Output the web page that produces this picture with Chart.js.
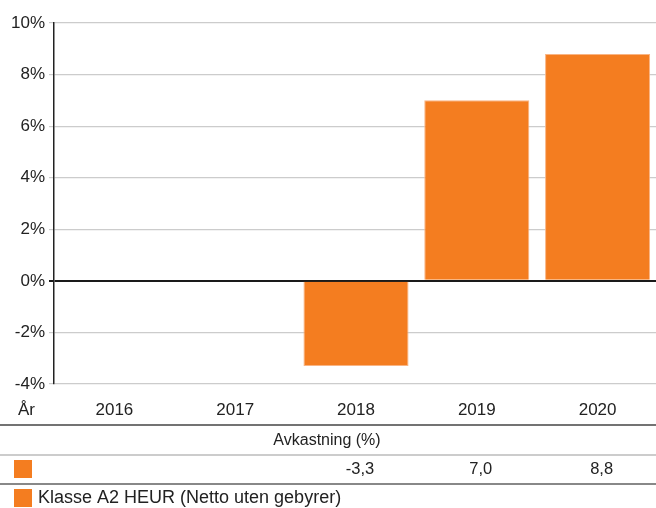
<!DOCTYPE html>
<html>
<head>
<meta charset="utf-8">
<script src="https://cdn.jsdelivr.net/npm/chart.js@4/dist/chart.umd.min.js"></script>
<style>
html,body{margin:0;padding:0;background:#fff;overflow:hidden;}
#wrap{position:relative;width:656px;height:508px;overflow:hidden;}
</style>
</head>
<body>
<div id="wrap"><canvas id="c" width="658" height="508"></canvas></div>
<script>
const years = ['2016', '2017', '2018', '2019', '2020'];
const returns = [null, null, -3.3, 7.0, 8.8];
const yMin = -4, yMax = 10, yStep = 2;
const axisTitle = 'År';
const tableTitle = 'Avkastning (%)';
const seriesName = 'Klasse A2 HEUR (Netto uten gebyrer)';

const FONT = '"Liberation Sans", Arial, Helvetica, sans-serif';
const ORANGE = '#F47D20';

const tablePlugin = {
  id: 'tablePlugin',
  afterDraw(chart) {
    const ctx = chart.ctx;
    const xs = chart.scales.x;
    const W = chart.width;
    ctx.save();
    ctx.fillStyle = '#222';
    ctx.textBaseline = 'middle';
    ctx.font = '17px ' + FONT;
    ctx.textAlign = 'left';
    ctx.fillText(axisTitle, 18, 410);
    // line under years
    ctx.strokeStyle = '#444'; ctx.lineWidth = 1.5;
    ctx.beginPath(); ctx.moveTo(0, 425); ctx.lineTo(W, 425); ctx.stroke();
    // table title
    ctx.font = '16px ' + FONT;
    ctx.textAlign = 'center';
    ctx.fillText(tableTitle, 327, 441);
    ctx.strokeStyle = '#bbb'; ctx.lineWidth = 1.5;
    ctx.beginPath(); ctx.moveTo(0, 455); ctx.lineTo(W, 455); ctx.stroke();
    // value row
    ctx.fillStyle = ORANGE;
    ctx.fillRect(14, 460, 18, 18);
    ctx.fillStyle = '#222';
    ctx.font = '16.5px ' + FONT;
    returns.forEach((v, i) => {
      if (v === null) return;
      ctx.fillText(v.toFixed(1).replace('.', ','), xs.getPixelForValue(i) + 4, 469);
    });
    ctx.strokeStyle = '#888'; ctx.lineWidth = 2;
    ctx.beginPath(); ctx.moveTo(0, 484); ctx.lineTo(W, 484); ctx.stroke();
    // legend
    ctx.fillStyle = ORANGE;
    ctx.fillRect(14, 489, 18, 18);
    ctx.fillStyle = '#222';
    ctx.font = '18px ' + FONT;
    ctx.textAlign = 'left';
    ctx.fillText(seriesName, 38, 498);
    ctx.restore();
  }
};

new Chart(document.getElementById('c'), {
  type: 'bar',
  data: {
    labels: years,
    datasets: [{
      label: seriesName,
      data: returns,
      backgroundColor: ORANGE,
      borderColor: '#F9B483',
      borderWidth: 1,
      categoryPercentage: 1,
      barPercentage: 0.87
    }]
  },
  options: {
    responsive: false,
    animation: false,
    devicePixelRatio: 1,
    layout: { padding: { top: 23, right: 0, left: 0, bottom: 0 } },
    plugins: { legend: { display: false }, tooltip: { enabled: false } },
    scales: {
      x: {
        grid: { display: false, drawTicks: false },
        border: { display: false },
        ticks: { color: '#222', font: { family: FONT, size: 17 }, padding: 16, maxRotation: 0 },
        afterFit(s) { s.height = 124; }
      },
      y: {
        min: yMin, max: yMax,
        ticks: {
          stepSize: yStep,
          color: '#222',
          font: { family: FONT, size: 17 },
          padding: 4,
          callback: v => v + '%'
        },
        grid: {
          color: c => c.tick && c.tick.value === 0 ? '#1a1a1a' : '#cccccc',
          lineWidth: c => c.tick && c.tick.value === 0 ? 2 : 1.2,
          tickLength: 5,
          drawTicks: true
        },
        border: { display: true, color: '#222', width: 1.5 },
        afterFit(s) { s.width = 54; }
      }
    }
  },
  plugins: [tablePlugin]
});
</script>
</body>
</html>
